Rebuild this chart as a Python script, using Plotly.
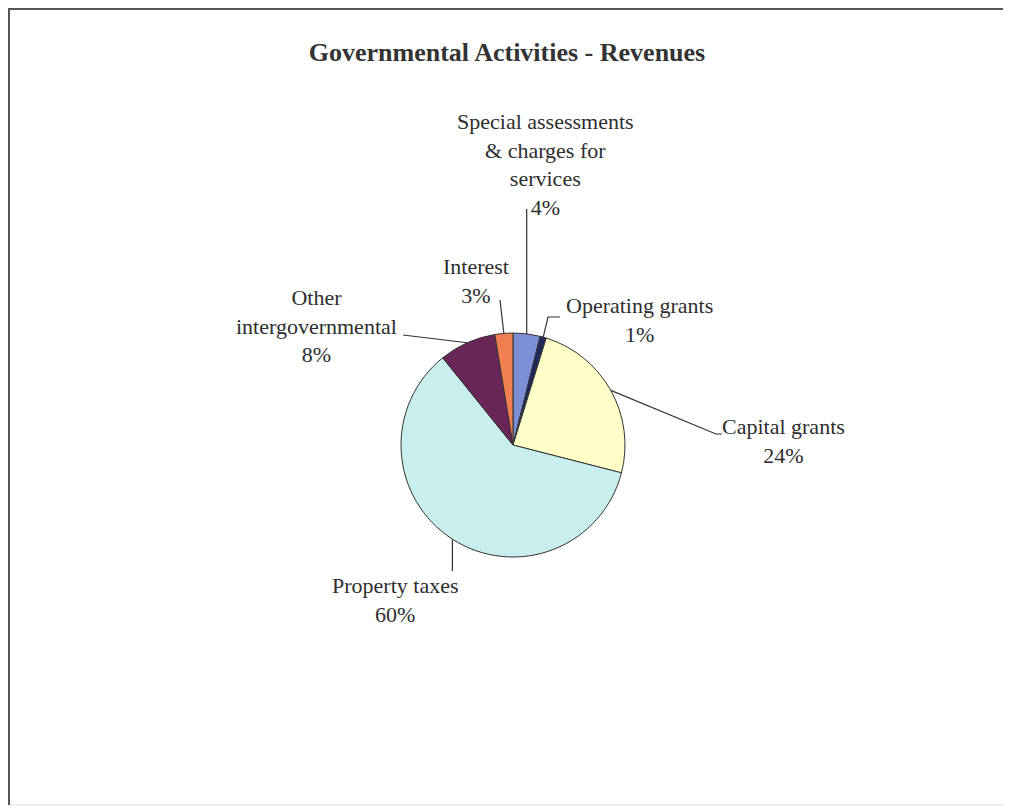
import math
import plotly.graph_objects as go

# slice data, clockwise from 12 o'clock
categories = ['Special assessments<br>& charges for<br>services', 'Operating grants', 'Capital grants',
              'Property taxes', 'Other<br>intergovernmental', 'Interest']
shares = [3.9, 0.9, 24.2, 60.2, 8.2, 2.6]
colors = ['#7b8fd6', '#1f2a5a', '#ffffc8', '#c9eeee', '#6a2659', '#f27f52']

# page body has an 8px margin, so the figure is drawn 8px in and 8px smaller
OFF = 8
W, H = 1011 - OFF, 810 - OFF
cx, cy, R = 513, 445, 112  # pie centre / radius in window px

# label block centres and leader-line anchor points (window px)
label_pos = [(545, 164), (639, 320), (783, 441), (395, 600), (316, 326), (476, 281)]
leader_pts = [[(None, 209)], [(548, 317), (560, 317)], [(716, 434), (722, 434)],
              [(None, 571)], [(403, 335)], [(500, 300)]]


def px(x, y):
    return (x - OFF) / W, 1 - (y - OFF) / H


fig = go.Figure(go.Pie(
    labels=categories, values=shares, sort=False, direction='clockwise', rotation=0,
    marker=dict(colors=colors, line=dict(color='#333333', width=1)),
    textinfo='none', showlegend=False, hoverinfo='label+percent',
    domain=dict(x=[px(cx - R, 0)[0], px(cx + R, 0)[0]], y=[px(0, cy + R)[1], px(0, cy - R)[1]]),
))

total = sum(shares)
cum = 0
shapes = []
annotations = []
for cat, v, (lx, ly), pts in zip(categories, shares, label_pos, leader_pts):
    ang = math.radians(360 * (cum + v / 2) / total)
    cum += v
    ex, ey = cx + R * math.sin(ang), cy - R * math.cos(ang)
    d = 'M {} {}'.format(*px(ex, ey))
    for x, y in pts:
        d += ' L {} {}'.format(*px(ex if x is None else x, y))
    shapes.append(dict(type='path', path=d, xref='paper', yref='paper',
                       line=dict(color='#333333', width=1.2)))
    pct = round(100 * v / total)
    ax, ay = px(lx, ly)
    annotations.append(dict(text='{}<br>{}%'.format(cat, pct), x=ax, y=ay, xref='paper', yref='paper',
                            showarrow=False, xanchor='center', yanchor='middle',
                            font=dict(family='Liberation Serif', size=22, color='#2e2e2e')))

# chart frame: dark top/left, faint bottom
x0, y1 = px(9, 9)
x1, y0 = px(1030, 805)
shapes.append(dict(type='rect', xref='paper', yref='paper', x0=x0, y0=y0, x1=x1, y1=y1,
                   line=dict(color='#dddddd', width=1)))
shapes.append(dict(type='path', xref='paper', yref='paper',
                   path='M {} {} L {} {} L {} {}'.format(x0, y0, x0, y1, x1, y1),
                   line=dict(color='#555555', width=2)))

fig.update_layout(
    width=W, height=H, margin=dict(l=0, r=0, t=0, b=0),
    paper_bgcolor='white', plot_bgcolor='white',
    title=dict(text='<b>Governmental Activities - Revenues</b>', x=px(507, 0)[0], xanchor='center',
               y=px(0, 52)[1], yanchor='middle',
               font=dict(family='Liberation Serif', size=26, color='#333333')),
    shapes=shapes, annotations=annotations,
)

fig.write_html('out.html')
